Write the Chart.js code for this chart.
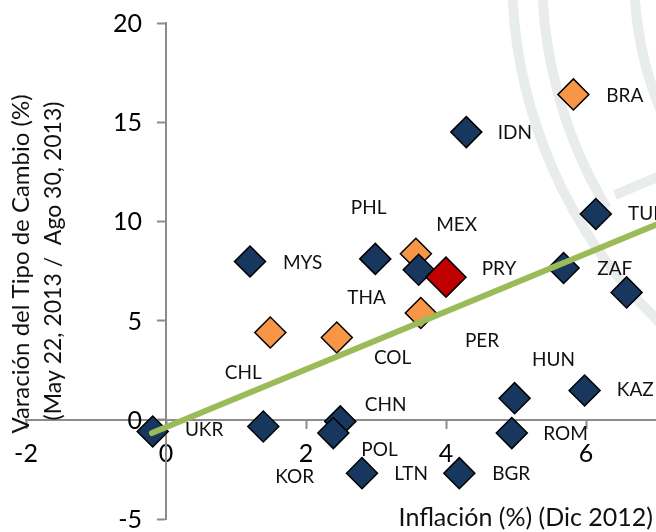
<!DOCTYPE html>
<html lang="es">
<head>
<meta charset="utf-8">
<title>Inflación vs Tipo de Cambio</title>
<script src="https://cdn.jsdelivr.net/npm/chart.js@4.4.1/dist/chart.umd.min.js"></script>
<style>
  html, body { margin: 0; padding: 0; background: #fff; }
  canvas { display: block; }
</style>
</head>
<body>
<canvas id="scatter-chart" width="656" height="532"></canvas>
<script>
// Inflación (x) vs variación del tipo de cambio (y)
const blueX = [1.2, 2.99, 3.61, 4.29, 6.14, 5.68, 6.58, 4.98, 5.98, 4.94, 4.19, 2.8, 1.39, 2.49, 2.39, -0.19];
const blueY = [7.98, 8.11, 7.56, 14.5, 10.37, 7.65, 6.42, 1.09, 1.48, -0.67, -2.69, -2.69, -0.34, -0.08, -0.67, -0.59];
const orangeX = [5.82, 3.57, 3.64, 1.49, 2.44];
const orangeY = [16.4, 8.37, 5.38, 4.4, 4.15];
const redX = [4.0];
const redY = [7.19];
const trendX = [-0.2, 7.0];
const trendY = [-0.67, 9.83];

const countryNames = ["BRA", "IDN", "PHL", "MEX", "TUR", "MYS", "PRY", "ZAF", "THA", "CHL", "COL",
  "PER", "HUN", "KAZ", "CHN", "UKR", "ROM", "POL", "KOR", "LTN", "BGR"];
const labelX = [6.29, 4.74, 2.64, 3.86, 6.6, 1.67, 4.51, 6.16, 2.59, 0.84, 2.97,
  4.27, 5.23, 6.44, 2.84, 0.27, 5.39, 2.79, 1.56, 3.26, 4.66];
const labelY = [16.33, 14.47, 10.69, 9.83, 10.38, 7.91, 7.61, 7.61, 6.15, 2.37, 3.13,
  3.98, 3.02, 1.51, 0.76, -0.5, -0.71, -1.51, -2.87, -2.72, -2.72];

const xTicks = [-2, 0, 2, 4, 6];
const yTicks = [-5, 0, 5, 10, 15, 20];
const xTitle = "Inflación (%) (Dic 2012)";
const yTitle = ["Varación del Tipo de Cambio (%)", "(May 22, 2013 /  Ago 30, 2013)"];

const AXIS_GREY = "#8c8c8c";
const FONT = "Lato";
const TICK_FONT = `25px ${FONT}`;

const toPoints = (xs, ys) => xs.map((x, i) => ({ x, y: ys[i] }));

const watermarkPlugin = {
  id: "watermark",
  beforeDraw: (chart) => {
    const { ctx } = chart;
    ctx.save();
    ctx.fillStyle = "#fff";
    ctx.fillRect(0, 0, chart.width, chart.height);
    ctx.strokeStyle = "#e8ecec";
    ctx.lineWidth = 10;
    const deg = Math.PI / 180;
    [[485, 133, 180], [455, 149, 180], [363, 158, 180]].forEach(([r, a0, a1]) => {
      ctx.beginPath();
      ctx.arc(997, -26, r, a0 * deg, a1 * deg);
      ctx.stroke();
    });
    ctx.beginPath();
    ctx.moveTo(615, 195);
    ctx.lineTo(660, 176);
    ctx.stroke();
    ctx.restore();
  },
};

// y tick labels sit left of the centred axis, Chart.js ignores padding there
const yTickLabelPlugin = {
  id: "yTickLabels",
  beforeDatasetsDraw: (chart) => {
    const { ctx, scales } = chart;
    const axisX = scales.x.getPixelForValue(0);
    ctx.save();
    ctx.font = TICK_FONT;
    ctx.fillStyle = "#000";
    ctx.textAlign = "right";
    ctx.textBaseline = "middle";
    yTicks.forEach((value) => {
      ctx.fillText(String(value), axisX - 24, scales.y.getPixelForValue(value) + 1);
    });
    ctx.restore();
  },
};

const countryLabelPlugin = {
  id: "countryLabels",
  afterDatasetsDraw: (chart) => {
    const { ctx, scales } = chart;
    ctx.save();
    ctx.font = `19px ${FONT}`;
    ctx.fillStyle = "#111";
    ctx.textAlign = "left";
    ctx.textBaseline = "middle";
    countryNames.forEach((name, i) => {
      ctx.fillText(name, scales.x.getPixelForValue(labelX[i]), scales.y.getPixelForValue(labelY[i]));
    });
    ctx.restore();
  },
};

const axisTitlePlugin = {
  id: "axisTitles",
  afterDraw: (chart) => {
    const { ctx } = chart;
    ctx.save();
    ctx.fillStyle = "#111";
    ctx.textBaseline = "middle";
    ctx.textAlign = "right";
    ctx.font = `25px ${FONT}`;
    ctx.fillText(xTitle, 653, 518);
    ctx.translate(21, 264);
    ctx.rotate(-Math.PI / 2);
    ctx.textAlign = "center";
    ctx.font = `24px ${FONT}`;
    ctx.fillText(yTitle[0], 0, 0);
    ctx.font = `23px ${FONT}`;
    ctx.fillText(yTitle[1], 3, 33);
    ctx.restore();
  },
};

const diamond = (color, radius) => ({
  pointStyle: "rectRot",
  pointRadius: radius,
  pointHoverRadius: radius,
  backgroundColor: color,
  borderColor: "#000",
  borderWidth: 1.5,
});

new Chart(document.getElementById("scatter-chart"), {
  type: "scatter",
  data: {
    datasets: [
      {
        label: "Tendencia",
        data: toPoints(trendX, trendY),
        showLine: true,
        borderColor: "#9bbb59",
        borderWidth: 6,
        borderCapStyle: "round",
        pointRadius: 0,
        order: 0,
      },
      { label: "México", data: toPoints(redX, redY), ...diamond("#c00000", 20), order: 1 },
      { label: "Emergentes", data: toPoints(blueX, blueY), ...diamond("#17375e", 15.5), order: 2 },
      { label: "América Latina", data: toPoints(orangeX, orangeY), ...diamond("#f79646", 15.5), order: 3 },
    ],
  },
  options: {
    responsive: false,
    animation: false,
    layout: { autoPadding: false, padding: { top: 23, bottom: 13, left: 26, right: 0 } },
    plugins: {
      legend: { display: false },
      tooltip: { enabled: false },
    },
    scales: {
      x: {
        type: "linear",
        min: -2,
        max: 7.0,
        position: { y: 0 },
        afterBuildTicks: (axis) => {
          axis.ticks = xTicks.map((value) => ({ value }));
        },
        afterFit: (axis) => {
          axis.paddingLeft = 0;
          axis.paddingRight = 0;
        },
        grid: { drawOnChartArea: false, tickLength: 8, tickColor: AXIS_GREY, tickWidth: 2 },
        border: { color: AXIS_GREY, width: 2 },
        ticks: { color: "#000", font: { family: FONT, size: 25 }, padding: 11, maxRotation: 0, autoSkip: false },
      },
      y: {
        type: "linear",
        min: -5,
        max: 20,
        position: { x: 0 },
        afterBuildTicks: (axis) => {
          axis.ticks = yTicks.map((value) => ({ value }));
        },
        afterFit: (axis) => {
          axis.paddingTop = 0;
          axis.paddingBottom = 0;
        },
        grid: { drawOnChartArea: false, tickLength: 8, tickColor: AXIS_GREY, tickWidth: 2 },
        border: { color: AXIS_GREY, width: 2 },
        ticks: { display: false },
      },
    },
  },
  plugins: [watermarkPlugin, yTickLabelPlugin, countryLabelPlugin, axisTitlePlugin],
});
</script>
</body>
</html>
